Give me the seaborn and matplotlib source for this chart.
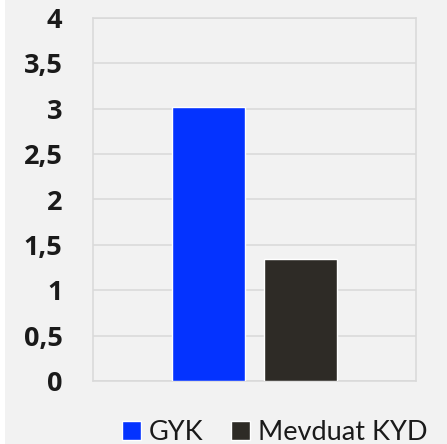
import seaborn as sns
import matplotlib.pyplot as plt
import pandas as pd
from matplotlib.patches import Rectangle

series = ["GYK", "Mevduat KYD"]
values = [3.02, 1.34]
colors = ["#0433ff", "#2e2b26"]
yticks = [0, 0.5, 1, 1.5, 2, 2.5, 3, 3.5, 4]
ytick_labels = [f"{v:g}".replace(".", ",") for v in yticks]

df = pd.DataFrame({"cat": [""] * len(series), "series": series, "value": values})

sns.set_theme(style="white")
plt.rcParams["font.family"] = ["Lato", "DejaVu Sans"]

fig = plt.figure(figsize=(4.47, 4.44), dpi=100, facecolor="#f2f2f2")
# thin white strip on the left edge
fig.patches.append(Rectangle((0, 0), 5 / 447, 1, transform=fig.transFigure,
                             facecolor="white", edgecolor="none", zorder=0))
ax = fig.add_axes([93 / 447, 1 - 381 / 444, 323 / 447, 363 / 444])
ax.set_facecolor("#f2f2f2")

sns.barplot(data=df, x="cat", y="value", hue="series", palette=dict(zip(series, colors)),
            width=0.57, gap=0.2, saturation=1, legend=False, ax=ax, zorder=3)

ax.set_xlim(-0.5, 0.5)
ax.set_ylim(0, 4)
ax.set_yticks(yticks, labels=ytick_labels, fontweight="bold", fontsize=19.5,
              color="#1a1a1a", family=["Open Sans", "DejaVu Sans"])
ax.set_xticks([])
ax.set_xlabel("")
ax.set_ylabel("")
ax.grid(True, axis="y", color="#d9d9d9", linewidth=1.1, zorder=0)
for s in ax.spines.values():
    s.set_visible(True)
    s.set_color("#d9d9d9")
    s.set_linewidth(1.1)
ax.tick_params(axis="y", length=0, pad=22)

handles = [Rectangle((0, 0), 1, 1, facecolor=c) for c in colors]
fig.legend(handles, series, loc="center", bbox_to_anchor=(0.614, 1 - 432 / 444),
           ncol=2, frameon=False, fontsize=19.5, handlelength=0.7, handleheight=0.7,
           handletextpad=0.3, columnspacing=1.0, labelcolor="#1a1a1a")

fig.savefig("out.png", dpi=100, facecolor=fig.get_facecolor())
